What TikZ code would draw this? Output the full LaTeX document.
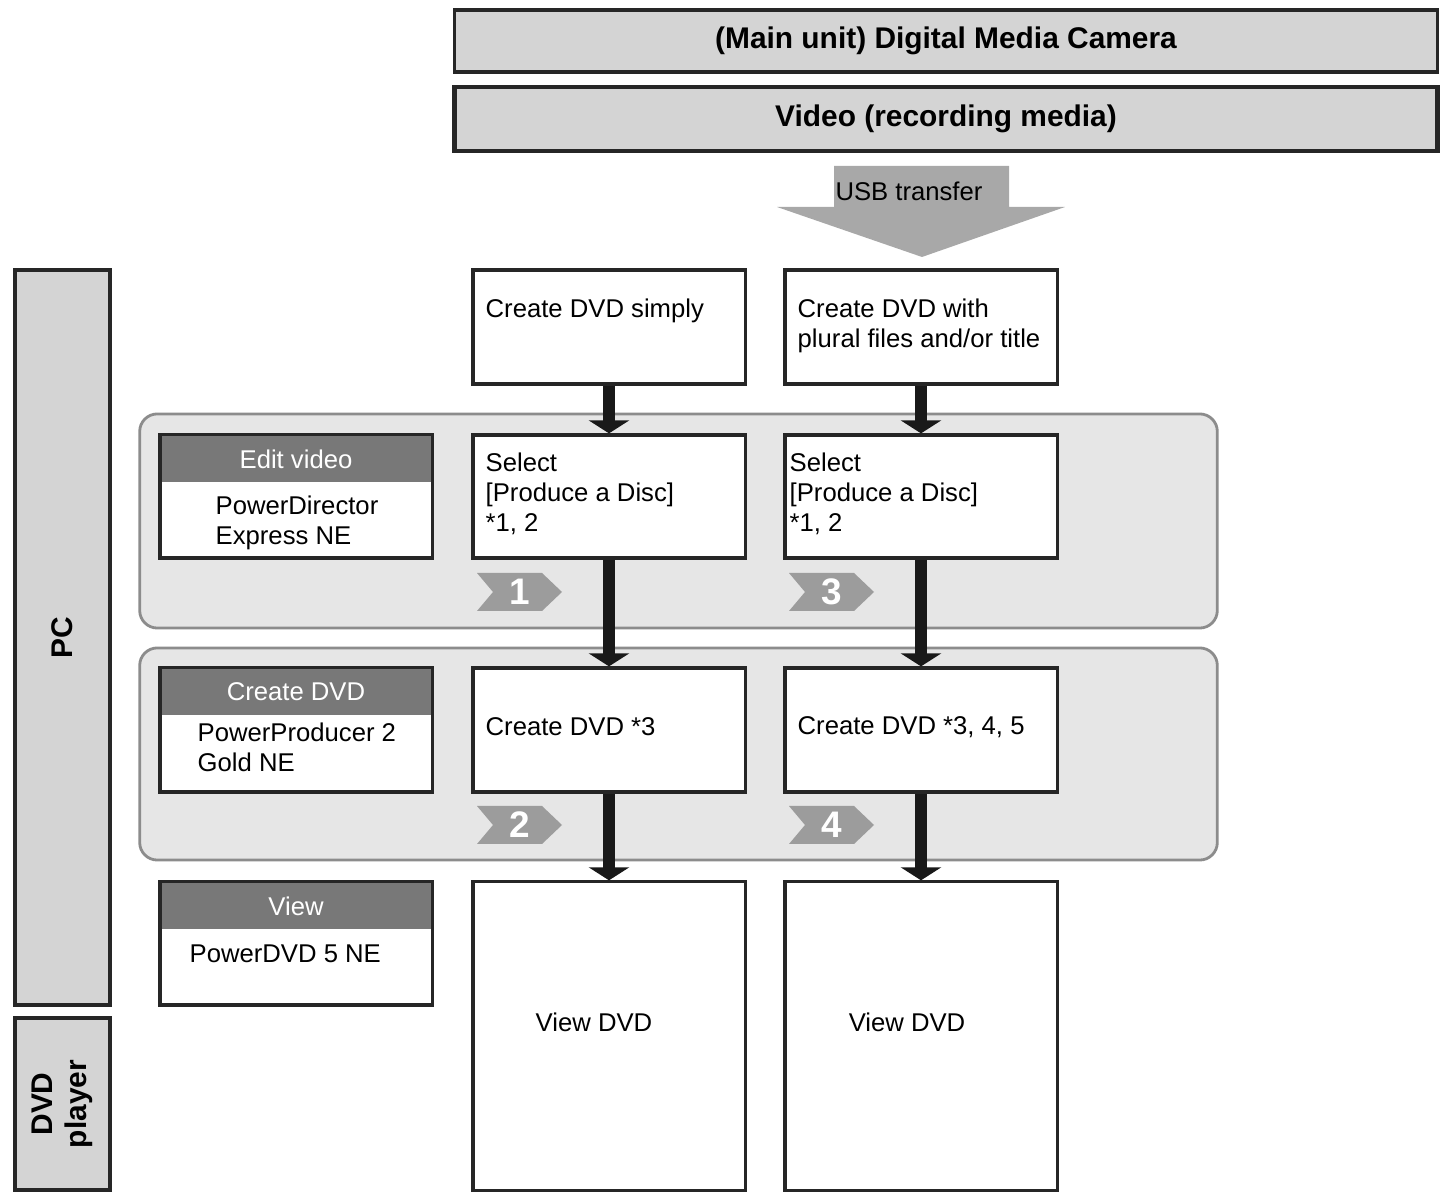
\documentclass[tikz,border=0pt]{standalone}
\usepackage{fontspec}
\setmainfont{Liberation Sans}
\usetikzlibrary{arrows.meta}

\definecolor{barfill}{HTML}{D4D4D4}
\definecolor{usbfill}{HTML}{A8A8A8}
\definecolor{bandfill}{HTML}{E6E6E6}
\definecolor{bandline}{HTML}{8C8C8C}
\definecolor{headfill}{HTML}{787878}
\definecolor{badgefill}{HTML}{9C9C9C}

\begin{document}
\begin{tikzpicture}[x=0.01cm,y=-0.01cm]

                \tikzset{every node/.style = {font=\fontsize{7.3}{8.6}\selectfont}}
                \tikzset{title/.style = {font=\fontsize{8.5}{9.6}\selectfont\bfseries}}
                \tikzset{box/.style = {shape=rectangle,draw=black!85,line width=0.9pt,fill=white,minimum width=2.72cm}}
                \tikzset{bar/.style = {shape=rectangle,draw=black!85,line width=1pt,fill=barfill}}
                \tikzset{band/.style = {shape=rectangle,rounded corners=5pt,draw=bandline,line width=0.8pt,fill=bandfill,minimum width=10.77cm}}
                \tikzset{head/.style = {shape=rectangle,fill=headfill,text=white,inner sep=0pt,minimum width=2.72cm-0.9pt,minimum height=0.465cm}}
                \tikzset{txt/.style = {inner sep=0pt,align=left}}
                \tikzset{badge/.style = {fill=badgefill}}
                \tikzset{num/.style = {text=white,font=\fontsize{10.5}{12}\selectfont\bfseries}}
                \tikzset{edge/.style = {-{Triangle[length=0.13cm,width=0.4cm]},line width=3.6pt,black!90}}

                \useasboundingbox (0,0) rectangle (1445,1198);

                \node[bar,title,line width=0.9pt,minimum width=9.82cm,minimum height=0.62cm] (cam) at (946,41) {(Main unit) Digital Media Camera};
                \node[bar,title,line width=1.3pt,minimum width=9.82cm,minimum height=0.64cm] (media) at (946,119) {Video (recording media)};

                \fill[usbfill] (834,166) -- (1009,166) -- (1009,207) -- (1065,207) -- (922,257) -- (777,207) -- (834,207) -- cycle;
                \node (usb) at (909,191) {USB transfer};

                \node[bar,title,rotate=90,minimum width=7.35cm,minimum height=0.95cm] (pc) at (62.5,637.5) {PC};
                \node[bar,title,rotate=90,align=center,minimum width=1.72cm,minimum height=0.95cm] (dvd) at (62.5,1104) {DVD\\player};

                \node[band,minimum height=2.14cm] (band1) at (678.5,521) {};
                \node[band,minimum height=2.12cm] (band2) at (678.5,754) {};

                \node[box,minimum height=1.14cm] (simple) at (609,327) {};
                \node[box,minimum height=1.14cm] (plural) at (921,327) {};
                \node[box,minimum height=1.23cm] (sel1) at (609,496.5) {};
                \node[box,minimum height=1.23cm] (sel2) at (921,496.5) {};
                \node[box,minimum height=1.24cm] (make1) at (609,730) {};
                \node[box,minimum height=1.24cm] (make2) at (921,730) {};
                \node[box,minimum height=3.08cm] (view1) at (609,1036) {};
                \node[box,minimum height=3.08cm] (view2) at (921,1036) {};

                \node[txt,anchor=north west] (simple-t) at (485,298) {Create DVD simply};
                \node[txt,anchor=north west] (plural-t) at (797,298) {Create DVD with\\plural files and/or title};
                \node[txt,anchor=north west] (sel1-t) at (485,452) {Select\\{[Produce a Disc]}\\*1, 2};
                \node[txt,anchor=north west] (sel2-t) at (789,452) {Select\\{[Produce a Disc]}\\*1, 2};
                \node[txt,anchor=west] (make1-t) at (485,727) {Create DVD *3};
                \node[txt,anchor=west] (make2-t) at (797,727) {Create DVD *3, 4, 5};
                \node (view1-t) at (594,1022) {View DVD};
                \node (view2-t) at (907,1022) {View DVD};

                \node[box,minimum height=1.23cm] (edit) at (296,496.5) {};
                \node[head,anchor=north] (edit-h) at ([yshift=-0.45pt]edit.north) {Edit video};
                \node[txt,anchor=north west] (edit-t) at (215,495) {PowerDirector\\Express NE};
                \node[box,minimum height=1.24cm] (author) at (296,730) {};
                \node[head,anchor=north] (author-h) at ([yshift=-0.45pt]author.north) {Create DVD};
                \node[txt,anchor=north west] (author-t) at (197,722) {PowerProducer 2\\Gold NE};
                \node[box,minimum height=1.23cm] (player) at (296,943.5) {};
                \node[head,anchor=north] (player-h) at ([yshift=-0.45pt]player.north) {View};
                \node[txt,anchor=north west] (player-t) at (189,944) {PowerDVD 5 NE};

                \foreach \x/\y/\n in {477/573/1, 789/573/3, 477/806/2, 789/806/4} {
                    \fill[badge] (\x,\y) -- ++(65,0) -- ++(20,19) -- ++(-20,19) -- ++(-65,0) -- ++(16,-19) -- cycle;
                    \node[num] (step\n) at (\x+43,\y+19) {\n};
                }

                \draw[edge] (simple) -- (sel1);
                \draw[edge] (plural) -- (sel2);
                \draw[edge] (sel1) -- (make1);
                \draw[edge] (sel2) -- (make2);
                \draw[edge] (make1) -- (view1);
                \draw[edge] (make2) -- (view2);

\end{tikzpicture}
\end{document}
